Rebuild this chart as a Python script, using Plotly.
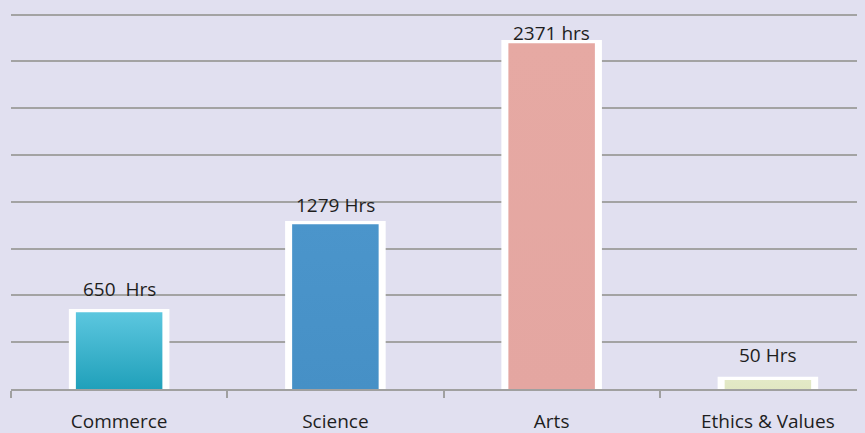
import plotly.graph_objects as go
import numpy as np

# ---- data ----
categories = ["Commerce", "Science", "Arts", "Ethics & Values"]
bar_heights = [1.64, 3.52, 7.39, 0.19]          # bar heights in gridline units (as drawn)
value_labels = ["650  Hrs", "1279 Hrs", "2371 hrs", "50 Hrs"]

# ---- styles ----
bg = "#E1E0F0"
top_colors = ["#5CC7DF", "#4B95CB", "#E6A9A3", "#E3E9C7"]
bottom_colors = ["#20A0BA", "#4690C6", "#E4A6A1", "#E1E7C3"]
label_yshift = [20, 16, 7, 22]
fill_w = 0.40
white_w = 0.465
white_pad = 0.07
font_family = "Open Sans, Liberation Sans, sans-serif"

x_idx = np.arange(len(categories))

fig = go.Figure()

# white backing ("glow") bars
fig.add_trace(go.Bar(
    x=x_idx, y=[h + white_pad for h in bar_heights], width=white_w,
    marker=dict(color="#FFFFFF", line=dict(width=0)),
    hoverinfo="skip", showlegend=False,
))

# gradient-filled bars
for i, h in enumerate(bar_heights):
    xs = [i - fill_w / 2, i - fill_w / 2, i + fill_w / 2, i + fill_w / 2, i - fill_w / 2]
    ys = [0, h, h, 0, 0]
    fig.add_trace(go.Scatter(
        x=xs, y=ys, mode="lines", fill="toself",
        line=dict(width=0, color=top_colors[i]),
        fillgradient=dict(type="vertical",
                          colorscale=[[0, bottom_colors[i]], [1, top_colors[i]]]),
        hoverinfo="skip", showlegend=False,
    ))

for i, (h, lab) in enumerate(zip(bar_heights, value_labels)):
    fig.add_annotation(
        x=i, y=h + white_pad, text=lab, showarrow=False,
        yanchor="middle", xanchor="center", yshift=label_yshift[i],
        font=dict(family=font_family, size=19, color="#1E1E1E"),
    )

# page body has an 8px margin: figure is sized so the plot lands where the reference has it
fig.update_layout(
    width=857, height=425,
    margin=dict(l=3, r=0, t=2, b=44, autoexpand=False),
    paper_bgcolor=bg, plot_bgcolor=bg,
    barmode="overlay",
    showlegend=False,
)

fig.update_xaxes(
    range=[-0.5, 3.449],
    tickmode="array", tickvals=list(x_idx), ticktext=categories,
    ticks="", showgrid=False, zeroline=False,
    showline=True, linecolor="#A0A0A0", linewidth=2,
    tickfont=dict(family=font_family, size=19, color="#1E1E1E"),
    ticklabelstandoff=14,
    minor=dict(tickvals=[-0.5, 0.5, 1.5, 2.5, 3.5], ticks="outside",
               ticklen=7, tickcolor="#A0A0A0", tickwidth=1.5, showgrid=False),
)
fig.update_yaxes(
    range=[0, 8.1], dtick=1, showticklabels=False, ticks="",
    showgrid=True, gridcolor="#A3A3A3", gridwidth=2,
    zeroline=False, showline=False,
)

fig.write_html("out.html",
               post_script="document.body.style.background='%s';" % bg)
